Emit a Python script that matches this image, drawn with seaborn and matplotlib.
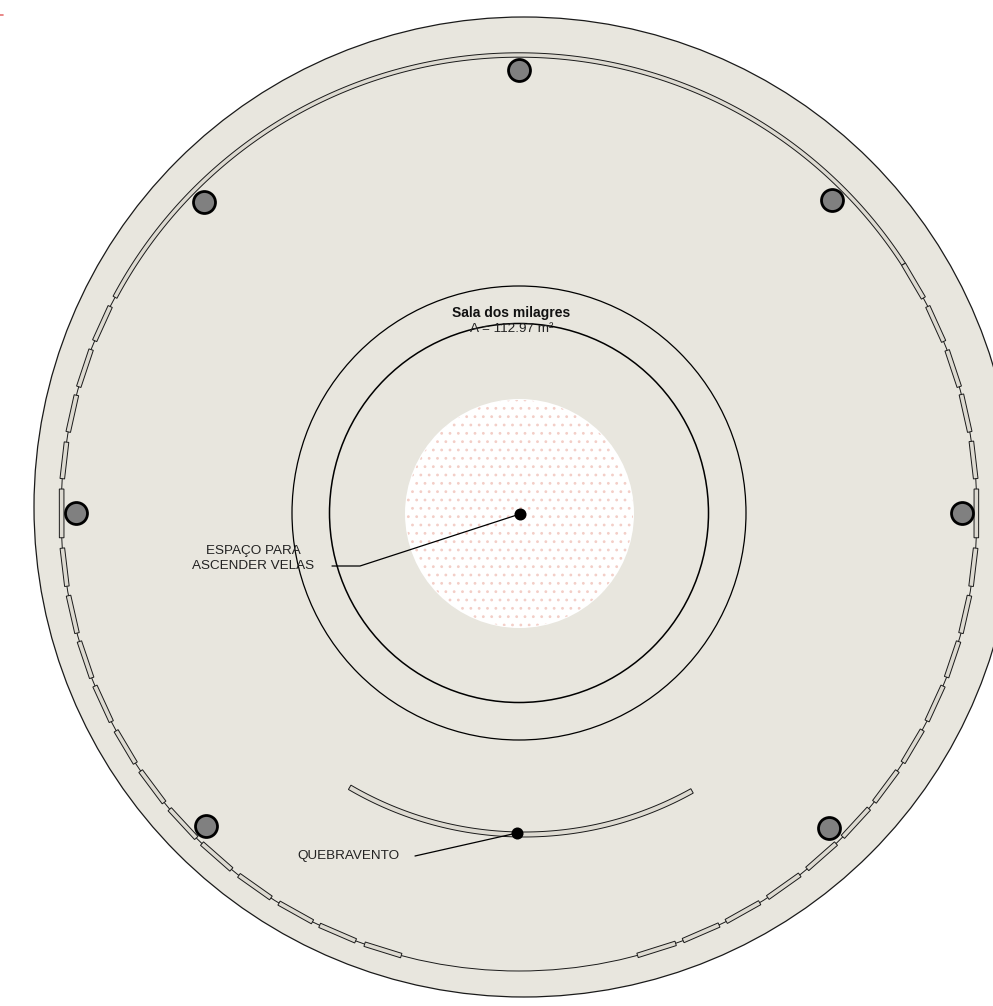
import numpy as np
import matplotlib
matplotlib.use("Agg")
import matplotlib.pyplot as plt
from matplotlib.patches import Circle, Polygon
import seaborn as sns

# ---- plan values (units: image pixels of the drawing) ----
site_center = (524, 507)
site_radius = 490
ring_center = (519, 513)
ring_radius = 458
hall_outer_radius = 227
hall_inner_radius = 189.5
court_center = (519.5, 513.5)
court_radius = 114.5

# window openings on the ring, degrees above (+) / below (-) the horizontal
left_start = [26.8, 20.9, 14.9, 8.9, 3.0, -4.4, -10.4, -16.3, -22.2, -28.4, -34.3, -40.3, -46.2, -52.3, -58.4, -64.2, -70.3]
left_end = [22.1, 16.0, 10.2, 4.3, -3.1, -9.2, -15.2, -21.1, -27.1, -33.1, -39.2, -45.2, -51.1, -57.2, -63.2, -69.1, -75.1]
right_start = [32.9, 26.8, 20.8, 15.0, 9.0, 3.0, -4.4, -10.4, -16.3, -22.2, -28.3, -34.3, -40.2, -46.2, -52.2, -58.3, -64.1, -70.0]
right_end = [28.0, 22.0, 16.0, 10.2, 4.3, -3.1, -9.2, -15.2, -21.0, -27.0, -33.0, -39.1, -45.0, -51.0, -57.1, -63.1, -69.0, -75.0]
top_band_left = 28.1
top_band_right = 32.9

column_x = [519, 204, 832, 76, 962, 206, 829]
column_y = [70, 202, 200, 513, 513, 826, 828]
pin_x = [520, 517]
pin_y = [514, 833]

wind_center = (524, 489)
wind_radii = (343, 348)
wind_left_angle = 30.3
wind_right_angle = 29.1

leader1_x = [332, 360, 520]
leader1_y = [566, 566, 514]
leader2_x = [415, 517]
leader2_y = [856, 833]
mark_x = [0, 3]
mark_y = [15, 15]

labels = ["Sala dos milagres", "A = 112.97 m\u00b2", "ESPA\u00c7O PARA\nASCENDER VELAS", "QUEBRAVENTO"]

# ---- style ----
BG = "#E8E6DE"
WIN = "#DDDAD1"
LINE = "#1a1a1a"

sns.set_theme(style="white")
plt.rcParams["font.family"] = ["Liberation Sans", "DejaVu Sans"]
plt.rcParams["hatch.linewidth"] = 0.8

fig = plt.figure(figsize=(9.93, 10.06), dpi=100, facecolor="white")
ax = fig.add_axes([0, 0, 1, 1])
ax.set_xlim(0, 993)
ax.set_ylim(1006, 0)
ax.set_aspect("equal")
ax.axis("off")


def polar(center, radius, deg):
    t = np.radians(deg)
    return center[0] + radius * np.cos(t), center[1] - radius * np.sin(t)


def arc_band(center, r1, r2, a1, a2, z=3):
    t = np.linspace(a1, a2, 240)
    x1, y1 = polar(center, r1, t)
    x2, y2 = polar(center, r2, t)
    pts = np.r_[np.c_[x1, y1], np.c_[x2, y2][::-1]]
    ax.add_patch(Polygon(pts, closed=True, fc=WIN, ec=LINE, lw=0.7, zorder=z))


def window(a1, a2, half=2.3, z=3):
    x1, y1 = polar(ring_center, ring_radius, a1)
    x2, y2 = polar(ring_center, ring_radius, a2)
    d = np.array([x2 - x1, y2 - y1])
    n = np.array([-d[1], d[0]]) / np.hypot(*d) * half
    pts = [(x1 + n[0], y1 + n[1]), (x2 + n[0], y2 + n[1]),
           (x2 - n[0], y2 - n[1]), (x1 - n[0], y1 - n[1])]
    ax.add_patch(Polygon(pts, closed=True, fc=WIN, ec=LINE, lw=0.7, zorder=z))


# site disc
ax.add_patch(Circle(site_center, site_radius, fc=BG, ec=LINE, lw=0.9, zorder=1))
# ring wall
ax.add_patch(Circle(ring_center, ring_radius, fc="none", ec=LINE, lw=0.7, zorder=2))
# hall circles
ax.add_patch(Circle(ring_center, hall_outer_radius, fc="none", ec="black", lw=0.9, zorder=2))
ax.add_patch(Circle(ring_center, hall_inner_radius, fc="none", ec="black", lw=1.1, zorder=2))
# central court with texture
ax.add_patch(Circle(court_center, court_radius, fc="white", ec="none", lw=0, zorder=2))
ax.add_patch(Circle(court_center, court_radius - 1, fc="none", ec="#F3CEC7", lw=0, hatch="..", zorder=2))

# continuous band across the top
arc_band(ring_center, ring_radius - 2.2, ring_radius + 2.2, top_band_right, 180 - top_band_left)
# windows
for a, b in zip(left_start, left_end):
    window(180 - a, 180 - b)
for a, b in zip(right_start, right_end):
    window(a, b)

# windbreak
arc_band(wind_center, wind_radii[0], wind_radii[1], 270 - wind_left_angle, 270 + wind_right_angle, z=3)

# leaders
for xs, ys in ((leader1_x, leader1_y), (leader2_x, leader2_y)):
    sns.lineplot(x=xs, y=ys, sort=False, estimator=None, color="black", lw=0.9, ax=ax, zorder=5, legend=False)
sns.lineplot(x=mark_x, y=mark_y, sort=False, estimator=None, color="#E57373", lw=1.2, ax=ax, zorder=5, legend=False)

# columns and pins
sns.scatterplot(x=column_x, y=column_y, s=250, color="#808080", edgecolor="black", linewidth=2.0,
                ax=ax, zorder=6, legend=False)
sns.scatterplot(x=pin_x, y=pin_y, s=75, color="black", edgecolor="black", linewidth=0,
                ax=ax, zorder=6, legend=False)

# text
ax.text(511, 313, labels[0], ha="center", va="center", fontsize=10, fontweight="bold", color="#111111", zorder=7)
ax.text(511.5, 329.5, labels[1], ha="center", va="center", fontsize=9.7, color="#222222", zorder=7)
ax.text(253, 558.5, labels[2], ha="center", va="center", fontsize=9.7, color="#222222", linespacing=1.33, zorder=7)
ax.text(348, 855.5, labels[3], ha="center", va="center", fontsize=9.7, color="#222222", zorder=7)

ax.set_xlim(0, 993)
ax.set_ylim(1006, 0)
fig.savefig("out.png", dpi=100, facecolor="white")
